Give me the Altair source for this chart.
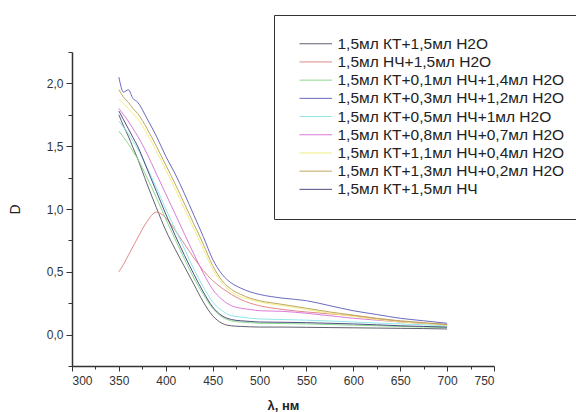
import altair as alt
import pandas as pd

wavelength = [350, 355, 360, 365, 370, 380, 390, 400, 410, 420, 430, 440, 450,
              460, 470, 480, 490, 500, 525, 550, 575, 600, 625, 650, 675, 700]

labels = [
    "1,5мл КТ+1,5мл H2O",
    "1,5мл НЧ+1,5мл H2O",
    "1,5мл КТ+0,1мл НЧ+1,4мл H2O",
    "1,5мл КТ+0,3мл НЧ+1,2мл H2O",
    "1,5мл КТ+0,5мл НЧ+1мл H2O",
    "1,5мл КТ+0,8мл НЧ+0,7мл H2O",
    "1,5мл КТ+1,1мл НЧ+0,4мл H2O",
    "1,5мл КТ+1,3мл НЧ+0,2мл H2O",
    "1,5мл КТ+1,5мл НЧ",
]
colors = ["#505060", "#e07b7b", "#80d680", "#5a5ab8", "#86e4e4",
          "#d56ed5", "#f0ec78", "#b8a04e", "#3c3c76"]

kt_h2o = [1.75, 1.66, 1.58, 1.49, 1.40, 1.20, 1.01, 0.83, 0.68, 0.54, 0.40, 0.26, 0.15,
          0.09, 0.07, 0.065, 0.062, 0.06, 0.06, 0.058, 0.056, 0.054, 0.052, 0.05, 0.048, 0.045]
nch_h2o = [0.50, 0.56, 0.63, 0.70, 0.77, 0.90, 0.975, 0.93, 0.83, 0.72, 0.61, 0.51, 0.43,
           0.37, 0.32, 0.28, 0.25, 0.23, 0.20, 0.18, 0.165, 0.15, 0.125, 0.105, 0.09, 0.08]
nch_01 = [1.62, 1.57, 1.52, 1.46, 1.40, 1.25, 1.09, 0.92, 0.76, 0.60, 0.45, 0.32, 0.21,
          0.14, 0.11, 0.10, 0.095, 0.09, 0.088, 0.085, 0.08, 0.075, 0.07, 0.065, 0.06, 0.055]
nch_03 = [2.05, 1.93, 1.95, 1.88, 1.85, 1.72, 1.58, 1.42, 1.28, 1.12, 0.95, 0.78, 0.60,
          0.48, 0.41, 0.37, 0.34, 0.32, 0.29, 0.27, 0.23, 0.19, 0.16, 0.13, 0.11, 0.09]
nch_05 = [1.70, 1.65, 1.60, 1.54, 1.48, 1.33, 1.17, 1.00, 0.84, 0.68, 0.52, 0.38, 0.26,
          0.19, 0.15, 0.14, 0.13, 0.125, 0.12, 0.115, 0.108, 0.10, 0.092, 0.085, 0.078, 0.07]
nch_08 = [1.80, 1.75, 1.70, 1.64, 1.58, 1.44, 1.28, 1.12, 0.96, 0.80, 0.64, 0.49, 0.36,
          0.28, 0.23, 0.21, 0.20, 0.19, 0.185, 0.17, 0.15, 0.13, 0.115, 0.10, 0.09, 0.08]
nch_11 = [1.87, 1.84, 1.80, 1.76, 1.72, 1.60, 1.46, 1.31, 1.16, 1.00, 0.84, 0.68, 0.52,
          0.41, 0.34, 0.30, 0.28, 0.26, 0.23, 0.20, 0.17, 0.145, 0.12, 0.10, 0.09, 0.075]
nch_13 = [1.95, 1.89, 1.85, 1.80, 1.76, 1.64, 1.50, 1.35, 1.20, 1.04, 0.88, 0.72, 0.55,
          0.43, 0.36, 0.32, 0.29, 0.27, 0.24, 0.21, 0.18, 0.155, 0.13, 0.11, 0.095, 0.08]
nch_15 = [1.78, 1.71, 1.64, 1.57, 1.50, 1.32, 1.14, 0.96, 0.79, 0.63, 0.48, 0.34, 0.22,
          0.15, 0.12, 0.11, 0.105, 0.10, 0.098, 0.095, 0.09, 0.085, 0.078, 0.07, 0.065, 0.06]

series = [kt_h2o, nch_h2o, nch_01, nch_03, nch_05, nch_08, nch_11, nch_13, nch_15]

x_ticks = list(range(300, 751, 25))
y_ticks = [-0.25, 0.0, 0.25, 0.5, 0.75, 1.0, 1.25, 1.5, 1.75, 2.0, 2.25]

rows = []
for lab, vals in zip(labels, series):
    for x, y in zip(wavelength, vals):
        rows.append({"series": lab, "x": x, "y": y})
df = pd.DataFrame(rows)

FONT = "Liberation Sans"

chart = alt.Chart(df).mark_line(strokeWidth=1, interpolate="monotone", opacity=0.9).encode(
    x=alt.X(
        "x:Q",
        scale=alt.Scale(domain=[300, 750], nice=False, zero=False),
        axis=alt.Axis(
            values=x_ticks,
            title="λ, нм",
            titleFontWeight="bold",
            titleFontSize=13,
            titleY=39,
            titleBaseline="middle",
            labelExpr="datum.value % 50 === 0 ? datum.value : ''",
            tickSize={"condition": {"test": "datum.value % 50 === 0", "value": 5}, "value": 3},
            labelPadding=4,
            grid=False,
        ),
    ),
    y=alt.Y(
        "y:Q",
        scale=alt.Scale(domain=[-0.25, 2.25], nice=False, zero=False),
        axis=alt.Axis(
            values=y_ticks,
            title="D",
            titleFontWeight="normal",
            titleX=-57,
            titleY=157,
            titleBaseline="middle",
            labelExpr="(datum.value * 2) % 1 === 0 && datum.value >= 0 ? replace(format(datum.value, '.1f'), '.', ',') : ''",
            tickSize={"condition": {"test": "(datum.value * 2) % 1 === 0", "value": 6}, "value": 4},
            labelPadding=3,
            grid=False,
        ),
    ),
    color=alt.Color(
        "series:N",
        scale=alt.Scale(domain=labels, range=colors),
        legend=alt.Legend(
            title=None,
            orient="none",
            legendX=202,
            legendY=-37,
            strokeColor="#333333",
            fillColor="white",
            padding=21,
            symbolType="M-0.5,0H4.5",
            symbolSize=169,
            symbolStrokeWidth=1,
            labelFontSize=15.5,
            labelFont=FONT,
            labelColor="#222222",
            labelLimit=400,
            labelOffset=27,
            rowPadding=1.2,
        ),
    ),
).properties(
    width=422,
    height=314,
    autosize=alt.AutoSizeParams(type="none"),
    padding={"left": 72, "top": 52, "right": 82, "bottom": 46},
).configure_view(
    stroke=None
).configure_axis(
    domainColor="#333333",
    domainWidth=1.5,
    tickColor="#333333",
    tickWidth=1,
    labelFont=FONT,
    labelFontSize=12,
    labelColor="#333333",
    titleFont=FONT,
    titleFontSize=14,
    titleColor="#222222",
)

chart.save("out.html", embed_options={"renderer": "svg", "actions": False})
